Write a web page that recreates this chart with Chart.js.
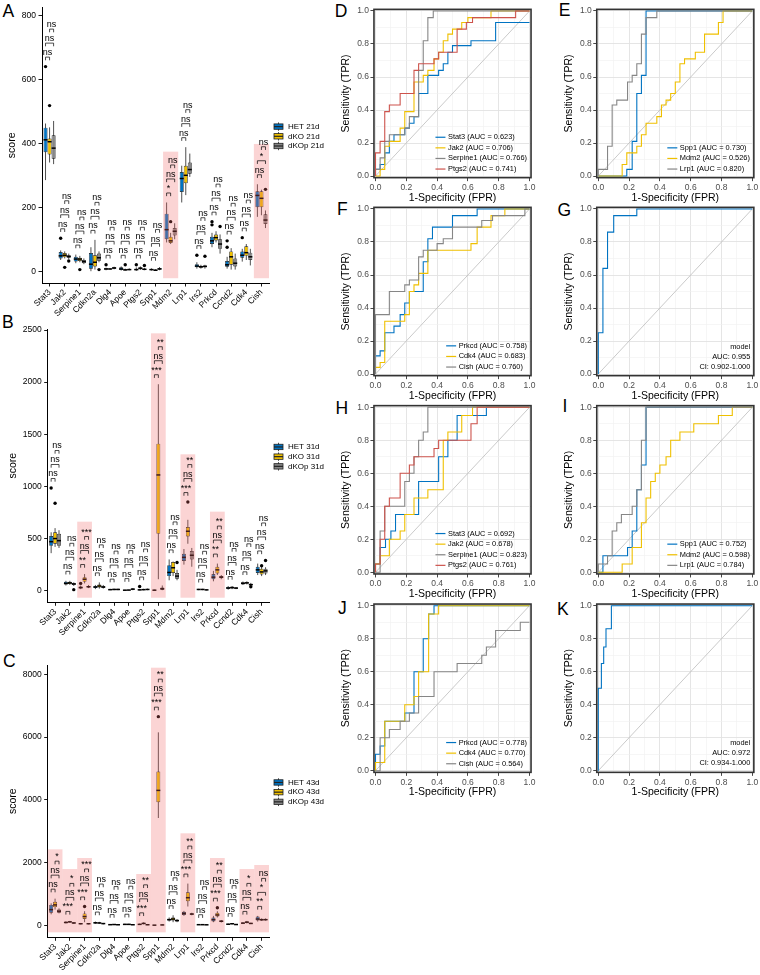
<!DOCTYPE html>
<html>
<head>
<meta charset="utf-8">
<script src="https://cdn.jsdelivr.net/npm/chart.js@4.4.1/dist/chart.umd.min.js"></script>
<style>
html,body{margin:0;padding:0;background:#fff;width:760px;height:975px;overflow:hidden;position:relative;}
canvas{position:absolute;}
.pl{position:absolute;font-family:"Liberation Sans",Arial,sans-serif;font-size:17.5px;line-height:17.5px;color:#000;}
</style>
</head>
<body>
<div class="pl" style="left:2.5px;top:3px">A</div>
<div class="pl" style="left:2px;top:314px">B</div>
<div class="pl" style="left:3px;top:653px">C</div>
<div class="pl" style="left:334.7px;top:3px">D</div>
<div class="pl" style="left:558.7px;top:2px">E</div>
<div class="pl" style="left:337px;top:201px">F</div>
<div class="pl" style="left:557.5px;top:202px">G</div>
<div class="pl" style="left:335.4px;top:400px">H</div>
<div class="pl" style="left:562.5px;top:398px">I</div>
<div class="pl" style="left:338px;top:600px">J</div>
<div class="pl" style="left:557px;top:601px">K</div>
<script>
const FONT = '"Liberation Sans", Arial, sans-serif';
Chart.defaults.font.family = FONT;

// ---------- box plot data ----------
const genes = ['Stat3','Jak2','Serpine1','Cdkn2a','Dlg4','Apoe','Ptgs2','Spp1','Mdm2','Lrp1','Irs2','Prkcd','Ccnd2','Cdk4','Cish'];
const groupColors = ['#0073C2','#EFC000','#868686'];

// Panel A (21d): [lower whisker, q1, median, q3, upper whisker]
const a_ticks = [0,200,400,600,800];
const a_legend = ['HET 21d','dKO 21d','dKOp 21d'];
const a_het = [[285,372,411,449,462],[35,40,48,60,65],[25,30,38,45,52],[0,8,22,57,75],[3,5,7,9,11],[2,4,7,12,15],[1,3,5,8,12],[2,3,5,7,9],[90,100,130,180,215],[215,248,290,310,330],[8,12,16,22,28],[75,85,95,108,120],[8,14,20,32,45],[30,42,50,62,70],[170,200,237,250,272]];
const a_het_out = [[640],[103],[],[],[20],[],[20],[],[],[],[50],[155,145],[95,75],[105],[]];
const a_dko = [[340,365,405,415,450],[40,44,50,57,62],[28,32,38,42,48],[5,15,28,50,98],[4,6,7,8,10],[2,3,4,6,8],[4,6,9,12,15],[1,2,3,5,6],[85,88,95,108,120],[238,275,300,330,388],[8,11,14,17,20],[90,96,105,115,125],[5,20,45,62,72],[35,48,58,78,85],[175,200,228,250,255]];
const a_dko_out = [[518],[12],[5],[],[],[20],[],[],[155],[],[],[],[],[],[]];
const a_dkop = [[335,352,385,425,470],[38,42,46,50,55],[22,25,30,35,40],[28,33,42,55,62],[6,8,10,12,14],[3,4,5,7,9],[3,4,6,8,10],[3,5,7,10,13],[100,112,125,135,150],[295,305,318,340,368],[8,12,15,18,20],[55,70,85,100,115],[5,15,25,40,55],[18,35,45,58,70],[135,148,160,178,190]];
const a_dkop_out = [[],[32],[],[5],[],[],[18],[],[],[],[47],[140],[],[],[256]];
const a_sig_het_dko  = ['ns','ns','ns','ns','ns','ns','ns','ns','*','ns','ns','ns','ns','ns','ns'];
const a_sig_het_dkop = ['ns','ns','ns','ns','ns','ns','ns','ns','ns','ns','ns','ns','ns','ns','*'];
const a_sig_dko_dkop = ['ns','ns','ns','ns','ns','ns','ns','ns','ns','ns','ns','ns','ns','ns','ns'];
const a_pinkGenes = ['Mdm2','Cish'];
const a_pinkTop = [374,398];

// Panel B (31d)
const b_ticks = [0,500,1000,1500,2000,2500];
const b_legend = ['HET 31d','dKO 31d','dKOp 31d'];
const b_het = [[360,430,470,525,560],[50,60,70,85,95],[15,22,30,40,50],[15,25,35,45,55],[5,8,10,14,18],[2,3,5,7,9],[3,5,8,12,15],[2,3,5,8,10],[100,140,175,245,300],[250,285,320,355,400],[5,8,12,15,18],[90,110,130,160,190],[10,18,25,35,45],[55,62,70,80,88],[150,170,200,230,260]];
const b_het_out = [[985],[],[70],[],[],[],[40],[],[],[],[],[],[],[],[]];
const b_dko = [[420,450,500,560,600],[55,65,75,85,95],[70,85,110,130,160],[20,30,45,60,80],[5,8,12,15,20],[2,4,6,8,10],[4,6,10,14,18],[110,545,1110,1410,1980],[140,170,220,275,280],[450,520,570,610,680],[5,8,12,15,18],[150,165,200,230,260],[15,22,30,38,45],[60,68,75,82,90],[140,155,180,210,230]];
const b_dko_out = [[838],[],[],[],[],[],[],[],[],[850],[],[],[],[],[240]];
const b_dkop = [[410,430,480,545,580],[45,55,65,75,80],[25,30,38,45,55],[20,28,35,45,55],[5,8,12,15,20],[5,10,15,20,25],[5,8,12,15,20],[5,10,18,30,50],[100,115,140,170,200],[230,300,340,380,410],[3,5,8,10,12],[110,120,130,140,150],[15,20,25,30,35],[45,52,58,66,75],[150,165,190,210,225]];
const b_dkop_out = [[],[10],[],[],[],[],[],[],[270],[],[],[],[],[38],[290]];
const b_sig_het_dko  = ['ns','ns','**','ns','ns','ns','ns','***','ns','***','ns','**','ns','ns','ns'];
const b_sig_het_dkop = ['ns','ns','ns','ns','ns','ns','ns','ns','ns','ns','ns','ns','ns','ns','ns'];
const b_sig_dko_dkop = ['ns','ns','***','ns','ns','ns','ns','**','ns','**','ns','**','ns','ns','ns'];
const b_pinkGenes = ['Serpine1','Spp1','Lrp1','Prkcd'];
const b_pinkTop = [662,2468,1308,758];

// Panel C (43d)
const c_ticks = [0,2000,4000,6000,8000];
const c_legend = ['HET 43d','dKO 43d','dKOp 43d'];
const c_het = [[350,400,500,650,700],[60,70,90,110,130],[30,40,50,65,75],[50,60,80,100,120],[10,15,20,28,35],[15,20,30,40,50],[15,20,30,40,55],[2,3,5,8,10],[120,150,180,210,250],[300,330,380,430,460],[10,15,20,28,35],[100,120,180,250,300],[20,28,35,45,55],[40,55,70,85,100],[120,150,200,280,300]];
const c_het_out = [[],[],[],[],[],[],[],[],[],[],[],[],[],[],[]];
const c_dko = [[500,580,650,750,850],[80,95,110,125,140],[100,200,280,380,450],[50,60,75,90,110],[15,20,25,32,40],[15,20,30,40,50],[30,45,60,80,95],[3420,3920,4300,4900,6150],[100,150,200,250,320],[600,770,880,1050,1330],[10,15,20,28,35],[250,280,330,400,450],[30,40,50,60,70],[60,80,100,120,140],[140,150,180,200,220]];
const c_dko_out = [[],[],[600],[],[],[],[],[6650],[],[],[],[560],[],[],[]];
const c_dkop = [[380,400,450,500,540],[50,60,75,90,100],[30,40,50,60,70],[30,40,55,65,75],[8,12,18,24,30],[8,12,18,24,30],[8,12,18,24,30],[5,8,12,18,25],[100,130,150,180,200],[320,340,360,380,400],[8,12,16,20,25],[90,110,130,150,170],[15,20,25,30,35],[40,50,60,70,80],[150,160,180,200,220]];
const c_dkop_out = [[],[],[],[],[],[],[],[],[],[],[],[],[],[],[]];
const c_sig_het_dko  = ['ns','***','***','ns','ns','ns','***','***','ns','***','ns','***','ns','ns','**'];
const c_sig_het_dkop = ['ns','ns','ns','ns','ns','ns','ns','ns','ns','ns','ns','ns','ns','ns','*'];
const c_sig_dko_dkop = ['*','*','***','ns','ns','ns','**','**','ns','**','ns','**','ns','*','ns'];
const c_pinkGenes = ['Stat3','Jak2','Serpine1','Ptgs2','Spp1','Lrp1','Prkcd','Cdk4','Cish'];
const c_pinkTop = [2422,1794,2145,1635,8210,2932,2145,1794,1922];

// ---------- ROC data (fpr / tpr corner points) ----------
const rocTicks = [0,0.1,0.2,0.3,0.4,0.5,0.6,0.7,0.8,0.9,1.0];
const rocTickLabels = ['0.0','','0.2','','0.4','','0.6','','0.8','','1.0'];
const roc4Colors = ['#0073C2','#EFC000','#868686','#CD534C'];
const roc3Colors = ['#0073C2','#EFC000','#868686'];

// D
const D_names = ['Stat3','Jak2','Serpine1','Ptgs2'];
const D_auc = ['0.623','0.706','0.766','0.741'];
const D_Stat3_x = [0,0.03,0.06,0.09,0.12,0.19,0.22,0.25,0.28,0.34,0.41,0.44,0.47,0.5,0.62,0.78,1.0];
const D_Stat3_y = [0,0.04,0.07,0.14,0.21,0.25,0.29,0.32,0.36,0.5,0.61,0.64,0.68,0.75,0.79,0.82,0.93];
const D_Jak2_x = [0,0.03,0.06,0.09,0.16,0.19,0.25,0.31,0.34,0.38,0.41,0.44,0.47,0.5,0.56,0.6,0.75,1.0];
const D_Jak2_y = [0,0,0.04,0.18,0.21,0.29,0.39,0.57,0.61,0.64,0.71,0.75,0.82,0.86,0.89,0.93,0.96,1.0];
const D_Serpine1_x = [0,0.03,0.06,0.09,0.19,0.22,0.28,0.31,0.34,0.375,1.0];
const D_Serpine1_y = [0,0.04,0.11,0.21,0.25,0.29,0.36,0.64,0.82,0.96,1.0];
const D_Ptgs2_x = [0,0.03,0.06,0.09,0.16,0.25,0.28,0.38,0.41,0.53,0.59,0.63,0.91,1.0];
const D_Ptgs2_y = [0,0.14,0.21,0.39,0.43,0.5,0.64,0.68,0.71,0.75,0.89,0.93,0.96,1.0];
// E
const E_names = ['Spp1','Mdm2','Lrp1'];
const E_auc = ['0.730','0.526','0.820'];
const E_Spp1_x = [0,0.185,0.22,0.25,0.28,0.31,1.0];
const E_Spp1_y = [0,0,0.04,0.21,0.5,0.61,1.0];
const E_Mdm2_x = [0,0.155,0.185,0.25,0.28,0.31,0.38,0.41,0.44,0.47,0.5,0.53,0.56,0.63,0.69,0.78,0.81,1.0];
const E_Mdm2_y = [0,0,0.07,0.14,0.18,0.25,0.32,0.36,0.43,0.46,0.5,0.57,0.68,0.71,0.75,0.86,0.93,1.0];
const E_Lrp1_x = [0,0.06,0.09,0.12,0.19,0.22,0.25,0.28,0.31,0.38,1.0];
const E_Lrp1_y = [0,0.04,0.18,0.43,0.46,0.57,0.61,0.68,0.86,0.96,1.0];
// F
const F_names = ['Prkcd','Cdk4','Cish'];
const F_auc = ['0.758','0.683','0.760'];
const F_Prkcd_x = [0,0.03,0.06,0.12,0.16,0.19,0.22,0.31,0.34,0.37,0.5,0.66,1.0];
const F_Prkcd_y = [0,0.11,0.14,0.25,0.29,0.36,0.43,0.5,0.68,0.82,0.89,0.96,1.0];
const F_Cdk4_x = [0,0.03,0.06,0.19,0.22,0.25,0.28,0.34,0.62,0.66,0.75,0.84,1.0];
const F_Cdk4_y = [0,0.04,0.07,0.32,0.36,0.5,0.54,0.61,0.75,0.79,0.89,0.96,1.0];
const F_Cish_x = [0,0.09,0.19,0.22,0.28,0.31,0.4,0.44,0.5,0.69,0.76,0.97,1.0];
const F_Cish_y = [0,0.36,0.5,0.54,0.57,0.71,0.75,0.79,0.82,0.89,0.93,0.96,1.0];
// G
const G_model_x = [0,0.03,0.06,0.1,0.25,1.0];
const G_model_y = [0,0.25,0.64,0.86,0.96,1.0];
const G_note = ['model','AUC: 0.955','CI: 0.902-1.000'];
// H
const H_names = ['Stat3','Jak2','Serpine1','Ptgs2'];
const H_auc = ['0.692','0.678','0.823','0.761'];
const H_Stat3_x = [0,0.03,0.065,0.1,0.13,0.28,0.41,0.47,0.53,0.72,1.0];
const H_Stat3_y = [0,0.05,0.15,0.2,0.25,0.35,0.55,0.7,0.8,0.95,1.0];
const H_Jak2_x = [0,0.03,0.09,0.16,0.19,0.25,0.34,0.44,0.47,0.56,0.63,1.0];
const H_Jak2_y = [0,0.05,0.1,0.2,0.25,0.35,0.45,0.5,0.8,0.85,0.95,1.0];
const H_Serpine1_x = [0,0.03,0.06,0.19,0.22,0.25,0.28,0.31,0.34,1.0];
const H_Serpine1_y = [0,0,0.25,0.4,0.55,0.6,0.7,0.8,0.85,1.0];
const H_Ptgs2_x = [0,0.03,0.06,0.09,0.16,0.22,0.25,0.38,0.41,0.62,0.66,1.0];
const H_Ptgs2_y = [0,0.05,0.2,0.4,0.45,0.6,0.65,0.7,0.75,0.8,0.9,1.0];
// I
const I_names = ['Spp1','Mdm2','Lrp1'];
const I_auc = ['0.752','0.598','0.784'];
const I_Spp1_x = [0,0.03,0.19,0.22,0.25,0.28,0.31,1.0];
const I_Spp1_y = [0,0,0.1,0.15,0.25,0.5,0.65,1.0];
const I_Mdm2_x = [0,0.155,0.22,0.28,0.31,0.34,0.37,0.4,0.44,0.47,0.53,0.62,0.78,0.87,1.0];
const I_Mdm2_y = [0,0,0.05,0.15,0.3,0.45,0.55,0.6,0.65,0.7,0.8,0.85,0.9,0.95,1.0];
const I_Lrp1_x = [0,0.06,0.09,0.12,0.15,0.22,0.25,0.28,0.31,1.0];
const I_Lrp1_y = [0,0.05,0.1,0.25,0.3,0.35,0.4,0.5,0.8,1.0];
// J
const J_names = ['Prkcd','Cdk4','Cish'];
const J_auc = ['0.778','0.770','0.564'];
const J_Prkcd_x = [0,0.03,0.06,0.19,0.25,0.31,0.345,0.38,1.0];
const J_Prkcd_y = [0,0.1,0.15,0.3,0.35,0.6,0.8,0.95,1.0];
const J_Cdk4_x = [0,0.06,0.19,0.25,0.28,0.345,0.41,1.0];
const J_Cdk4_y = [0,0.05,0.3,0.4,0.45,0.6,0.95,1.0];
const J_Cish_x = [0,0.03,0.09,0.16,0.22,0.28,0.38,0.53,0.69,0.72,0.78,0.94,1.0];
const J_Cish_y = [0,0,0.2,0.25,0.3,0.35,0.45,0.6,0.65,0.7,0.75,0.85,0.9];
// K
const K_model_x = [0,0.02,0.035,0.05,0.085,1.0];
const K_model_y = [0,0.5,0.65,0.75,0.86,1.0];
const K_note = ['model','AUC: 0.972','CI: 0.934-1.000'];

// ---------- plugins ----------
const boxPlugin = {
  id: 'boxes',
  beforeDatasetsDraw(chart) {
    const o = chart.options.plugins.boxes, ctx = chart.ctx, ys = chart.scales.y;
    ctx.save();
    ctx.strokeStyle = '#222'; ctx.lineWidth = 0.8;
    o.groups.forEach((g, k) => {
      const meta = chart.getDatasetMeta(k);
      g.forEach((b, i) => {
        const x = meta.data[i].x;
        ctx.beginPath();
        ctx.moveTo(x, ys.getPixelForValue(b[0]));
        ctx.lineTo(x, ys.getPixelForValue(b[4]));
        ctx.stroke();
      });
    });
    ctx.restore();
  },
  afterDatasetsDraw(chart) {
    const o = chart.options.plugins.boxes, ctx = chart.ctx, ys = chart.scales.y, xs = chart.scales.x, ca = chart.chartArea;
    ctx.save();
    const metas = o.groups.map((g, k) => chart.getDatasetMeta(k));
    o.groups.forEach((g, k) => {
      g.forEach((b, i) => {
        const el = metas[k].data[i], hw = el.width / 2, ym = ys.getPixelForValue(b[2]);
        ctx.strokeStyle = '#000'; ctx.lineWidth = 1.5;
        ctx.beginPath(); ctx.moveTo(el.x - hw, ym); ctx.lineTo(el.x + hw, ym); ctx.stroke();
        ctx.fillStyle = '#000';
        o.outs[k][i].forEach(v => {
          ctx.beginPath(); ctx.arc(el.x, ys.getPixelForValue(v), 1.7, 0, Math.PI * 2); ctx.fill();
        });
      });
    });
    const cw = (ca.right - ca.left) / chart.data.labels.length;
    ctx.fillStyle = 'rgba(240,100,100,0.28)';
    o.pink.forEach(p => {
      const xc = xs.getPixelForValue(p[0]);
      const top = ys.getPixelForValue(p[1]);
      const bot = ys.getPixelForValue(0) + 7;
      ctx.fillRect(xc - cw / 2, top, cw, bot - top);
    });
    const pairs = [[0, 1], [0, 2], [1, 2]];
    ctx.font = '9px ' + FONT; ctx.textAlign = 'center'; ctx.textBaseline = 'alphabetic';
    ctx.strokeStyle = '#000'; ctx.fillStyle = '#000'; ctx.lineWidth = 0.7;
    chart.data.labels.forEach((lab, i) => {
      let mx = -Infinity;
      o.groups.forEach((g, k) => { mx = Math.max(mx, g[i][4], ...o.outs[k][i]); });
      const base = ys.getPixelForValue(mx);
      pairs.forEach((p, lv) => {
        const x1 = metas[p[0]].data[i].x, x2 = metas[p[1]].data[i].x;
        const yb = base - 9.5 - 14 * lv;
        ctx.beginPath(); ctx.moveTo(x1, yb + 3.2); ctx.lineTo(x1, yb); ctx.lineTo(x2, yb); ctx.lineTo(x2, yb + 3.2); ctx.stroke();
        ctx.fillText(o.sigs[lv][i], (x1 + x2) / 2, yb - 2);
      });
    });
    ctx.restore();
  },
  afterDraw(chart) {
    const o = chart.options.plugins.boxes, ctx = chart.ctx, ca = chart.chartArea;
    ctx.save();
    const cy0 = (ca.top + ca.bottom) / 2 - 9, kx = ca.right + 5;
    ctx.font = '8px ' + FONT; ctx.textBaseline = 'middle'; ctx.textAlign = 'left';
    o.legendLabels.forEach((t, k) => {
      const cy = cy0 + (k - 1) * 9.7;
      ctx.strokeStyle = '#222'; ctx.lineWidth = 0.8;
      ctx.beginPath(); ctx.moveTo(kx + 4.5, cy - 4.2); ctx.lineTo(kx + 4.5, cy + 4.2); ctx.stroke();
      ctx.fillStyle = groupColors[k];
      ctx.fillRect(kx, cy - 2.7, 9, 5.4); ctx.strokeRect(kx, cy - 2.7, 9, 5.4);
      ctx.lineWidth = 1.2;
      ctx.beginPath(); ctx.moveTo(kx, cy); ctx.lineTo(kx + 9, cy); ctx.stroke();
      ctx.fillStyle = '#000'; ctx.fillText(t, kx + 14, cy);
    });
    ctx.restore();
  }
};

const rocPlugin = {
  id: 'rocx',
  afterDraw(chart) {
    const o = chart.options.plugins.rocx, ctx = chart.ctx, ca = chart.chartArea;
    ctx.save();
    ctx.font = '7.4px ' + FONT; ctx.textBaseline = 'middle';
    if (o.names) {
      const texts = o.names.map((n, i) => n + ' (AUC = ' + o.aucs[i] + ')');
      const tw = Math.max(...texts.map(t => ctx.measureText(t).width));
      const left = ca.right - 4 - tw - 12.5;
      texts.forEach((t, i) => {
        const y = ca.bottom - 8.6 - (texts.length - 1 - i) * 10.6;
        ctx.strokeStyle = o.colors[i]; ctx.lineWidth = 1.2;
        ctx.beginPath(); ctx.moveTo(left, y); ctx.lineTo(left + 10, y); ctx.stroke();
        ctx.fillStyle = '#000'; ctx.textAlign = 'left'; ctx.fillText(t, left + 12.5, y);
      });
    }
    if (o.note) {
      ctx.textAlign = 'right'; ctx.fillStyle = '#000';
      o.note.forEach((t, i) => {
        const y = ca.bottom - 9 - (o.note.length - 1 - i) * 10;
        ctx.fillText(t, ca.right - 3.5, y);
      });
    }
    ctx.strokeStyle = '#333'; ctx.lineWidth = 1.6;
    ctx.strokeRect(ca.left, ca.top, ca.right - ca.left, ca.bottom - ca.top);
    ctx.restore();
  }
};

// ---------- builders ----------
function makeCanvas(left, top, w, h) {
  const c = document.createElement('canvas');
  c.width = w; c.height = h;
  c.style.left = left + 'px'; c.style.top = top + 'px';
  c.style.width = w + 'px'; c.style.height = h + 'px';
  document.body.appendChild(c);
  return c;
}

function boxChart(L, groups, outs, sigs, pinkGenes, pinkTop, ticks, legendLabels) {
  const cv = makeCanvas(L.x, L.y, L.w, L.h);
  const W = L.w, H = L.h;
  return new Chart(cv, {
    type: 'bar',
    data: {
      labels: genes,
      datasets: groups.map((g, k) => ({
        label: legendLabels[k],
        data: g.map(b => [b[1], b[3]]),
        backgroundColor: groupColors[k],
        borderColor: '#1a1a1a', borderWidth: 0.7, borderSkipped: false,
        categoryPercentage: 0.8, barPercentage: 1.0
      }))
    },
    options: {
      responsive: false, animation: false, events: [],
      layout: { padding: { left: 0, top: L.t, right: W - L.r, bottom: 0 } },
      plugins: {
        legend: { display: false }, tooltip: { enabled: false },
        boxes: { groups, outs, sigs, pink: pinkGenes.map((g, i) => [genes.indexOf(g), pinkTop[i]]), legendLabels }
      },
      scales: {
        x: {
          grid: { display: true, drawOnChartArea: false, drawTicks: true, tickLength: 3.5, tickColor: '#000', tickWidth: 0.9, offset: false },
          border: { display: true, color: '#000', width: 1 },
          ticks: { color: '#000', font: { size: 8.5 }, minRotation: 45, maxRotation: 45, autoSkip: false, padding: 1 },
          afterFit(s) { s.height = H - L.b; }
        },
        y: {
          min: L.ymin, max: L.ymax, bounds: 'data',
          afterBuildTicks(s) { s.ticks = ticks.map(v => ({ value: v })); },
          grid: { display: true, drawOnChartArea: false, drawTicks: true, tickLength: 3.5, tickColor: '#000', tickWidth: 0.9 },
          border: { display: true, color: '#000', width: 1 },
          ticks: { color: '#000', font: { size: 8.5 }, padding: 2.5, callback: v => String(v) },
          title: { display: true, text: 'score', color: '#000', font: { size: 10.5 }, padding: { top: L.tp, bottom: 0 } },
          afterFit(s) { s.width = L.l; }
        }
      }
    },
    plugins: [boxPlugin]
  });
}

function rocChart(x0, y1, xsArr, ysArr, names, aucs, colors, note) {
  const UX = 154, UY = 165, E = 0.01, W = 216, H = 210;
  const cl = Math.floor(x0 - 46), ct = Math.floor(y1 - 12);
  const LX = x0 - cl, TY = y1 - ct;
  const left = LX - E * UX, top = TY - E * UY, right = LX + UX + E * UX, bottom = TY + UY + E * UY;
  const cv = makeCanvas(cl, ct, W, H);
  const ds = xsArr.map((fx, i) => ({
    data: fx.map((v, j) => ({ x: v, y: ysArr[i][j] })),
    borderColor: colors[i], borderWidth: 1.1, pointRadius: 0, showLine: true,
    stepped: 'after', fill: false, order: xsArr.length - 1 - i
  }));
  ds.push({ data: [{ x: 0, y: 0 }, { x: 1, y: 1 }], borderColor: '#BDBDBD', borderWidth: 0.8, pointRadius: 0, showLine: true, order: 99 });
  const isMajor = v => Math.round(v * 10) % 2 === 0;
  const mkGrid = () => ({
    display: true, drawOnChartArea: true, drawTicks: true, tickLength: 3.5, tickWidth: 0.9,
    color: c => (c.tick && isMajor(c.tick.value)) ? '#E2E2E2' : '#F0F0F0',
    lineWidth: c => (c.tick && isMajor(c.tick.value)) ? 0.9 : 0.6,
    tickColor: c => (c.tick && isMajor(c.tick.value)) ? '#333333' : 'rgba(0,0,0,0)'
  });
  return new Chart(cv, {
    type: 'scatter',
    data: { datasets: ds },
    options: {
      responsive: false, animation: false, events: [],
      layout: { padding: { left: 0, top: top, right: W - right, bottom: 0 } },
      plugins: { legend: { display: false }, tooltip: { enabled: false }, rocx: { names, aucs, colors, note } },
      scales: {
        x: {
          type: 'linear', min: -E, max: 1 + E, bounds: 'data',
          afterBuildTicks(s) { s.ticks = rocTicks.map(v => ({ value: v })); },
          grid: mkGrid(), border: { display: false },
          ticks: { color: '#4D4D4D', font: { size: 8.5 }, padding: 1.5, maxRotation: 0, autoSkip: false, callback: (v, i) => rocTickLabels[i] },
          title: { display: true, text: '1-Specificity (FPR)', color: '#000', font: { size: 10.5 }, padding: { top: 0, bottom: 4.3 } },
          afterFit(s) { s.height = H - bottom; }
        },
        y: {
          type: 'linear', min: -E, max: 1 + E, bounds: 'data',
          afterBuildTicks(s) { s.ticks = rocTicks.map(v => ({ value: v })); },
          grid: mkGrid(), border: { display: false },
          ticks: { color: '#4D4D4D', font: { size: 8.5 }, padding: 1.5, autoSkip: false, callback: (v, i) => rocTickLabels[i] },
          title: { display: true, text: 'Sensitivity (TPR)', color: '#000', font: { size: 10.5 }, padding: { top: 11, bottom: 0 } },
          afterFit(s) { s.width = left; }
        }
      }
    },
    plugins: [rocPlugin]
  });
}

// ---------- build ----------
boxChart({ x: 0, y: 0, w: 330, h: 325, l: 42, t: 3, r: 269, b: 283, ymin: -36.9, ymax: 824.6, tp: 5.4 },
  [a_het, a_dko, a_dkop], [a_het_out, a_dko_out, a_dkop_out],
  [a_sig_het_dko, a_sig_het_dkop, a_sig_dko_dkop], a_pinkGenes, a_pinkTop, a_ticks, a_legend);
boxChart({ x: 0, y: 320, w: 330, h: 330, l: 47.7, t: 9, r: 269, b: 282.3, ymin: -111.2, ymax: 2509.6, tp: 7 },
  [b_het, b_dko, b_dkop], [b_het_out, b_dko_out, b_dkop_out],
  [b_sig_het_dko, b_sig_het_dkop, b_sig_dko_dkop], b_pinkGenes, b_pinkTop, b_ticks, b_legend);
boxChart({ x: 0, y: 650, w: 330, h: 325, l: 47.7, t: 15, r: 269, b: 287.3, ymin: -382, ymax: 8296, tp: 7 },
  [c_het, c_dko, c_dkop], [c_het_out, c_dko_out, c_dkop_out],
  [c_sig_het_dko, c_sig_het_dkop, c_sig_dko_dkop], c_pinkGenes, c_pinkTop, c_ticks, c_legend);

rocChart(375.5, 11, [D_Stat3_x, D_Jak2_x, D_Serpine1_x, D_Ptgs2_x], [D_Stat3_y, D_Jak2_y, D_Serpine1_y, D_Ptgs2_y], D_names, D_auc, roc4Colors, null);
rocChart(598.3, 11, [E_Spp1_x, E_Mdm2_x, E_Lrp1_x], [E_Spp1_y, E_Mdm2_y, E_Lrp1_y], E_names, E_auc, roc3Colors, null);
rocChart(375.5, 209, [F_Prkcd_x, F_Cdk4_x, F_Cish_x], [F_Prkcd_y, F_Cdk4_y, F_Cish_y], F_names, F_auc, roc3Colors, null);
rocChart(598.3, 209, [G_model_x], [G_model_y], null, null, ['#0073C2'], G_note);
rocChart(375.5, 407.3, [H_Stat3_x, H_Jak2_x, H_Serpine1_x, H_Ptgs2_x], [H_Stat3_y, H_Jak2_y, H_Serpine1_y, H_Ptgs2_y], H_names, H_auc, roc4Colors, null);
rocChart(598.3, 407.3, [I_Spp1_x, I_Mdm2_x, I_Lrp1_x], [I_Spp1_y, I_Mdm2_y, I_Lrp1_y], I_names, I_auc, roc3Colors, null);
rocChart(375.5, 605.7, [J_Prkcd_x, J_Cdk4_x, J_Cish_x], [J_Prkcd_y, J_Cdk4_y, J_Cish_y], J_names, J_auc, roc3Colors, null);
rocChart(598.3, 605.7, [K_model_x], [K_model_y], null, null, ['#0073C2'], K_note);
</script>
</body>
</html>
